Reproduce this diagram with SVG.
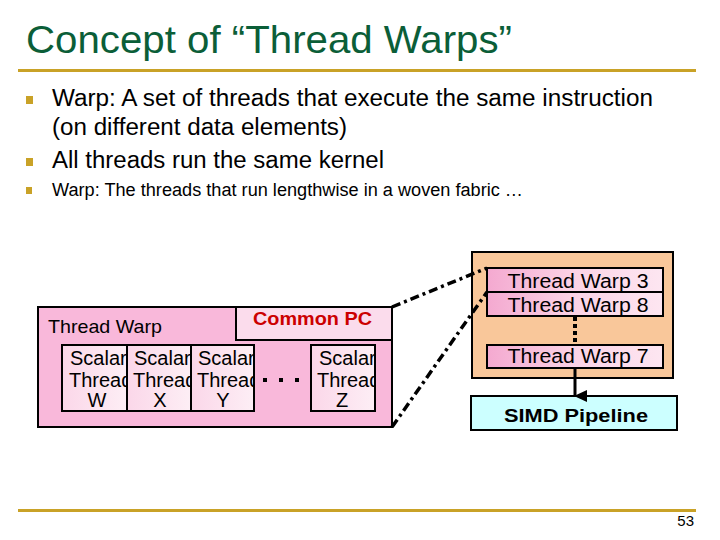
<svg xmlns="http://www.w3.org/2000/svg" width="720" height="540" viewBox="0 0 720 540">
<style>
.t{font-family:"Liberation Sans",Arial,sans-serif;fill:#000}
.bul{fill:#c9a227}
.box{stroke:#000;stroke-width:2}
.st{font-family:"Liberation Sans",Arial,sans-serif;font-size:20px;fill:#000}
.lt{font-family:"Liberation Sans",Arial,sans-serif;font-size:20px;fill:#000;text-anchor:middle}
.wt{font-family:"Liberation Sans",Arial,sans-serif;font-size:20px;fill:#000;text-anchor:middle}
.dd{fill:none;stroke:#000;stroke-width:3.5;stroke-dasharray:9 4 3 4}
</style>
<defs>
<linearGradient id="pg" x1="0" y1="0" x2="1" y2="0">
<stop offset="0" stop-color="#f4a9d0"/>
<stop offset="0.5" stop-color="#fbd3e6"/>
<stop offset="1" stop-color="#fde6f1"/>
</linearGradient>
<linearGradient id="sg" x1="0" y1="0" x2="1" y2="0">
<stop offset="0" stop-color="#fbd7e9"/>
<stop offset="1" stop-color="#fdeef5"/>
</linearGradient>
<clipPath id="c1"><rect x="62" y="345" width="65" height="66"/></clipPath>
<clipPath id="c2"><rect x="127" y="345" width="64" height="66"/></clipPath>
<clipPath id="c3"><rect x="191" y="345" width="63" height="66"/></clipPath>
<clipPath id="c4"><rect x="311" y="345" width="64" height="66"/></clipPath>
<marker id="ah" markerWidth="12" markerHeight="13" refX="6" refY="12" orient="auto" markerUnits="userSpaceOnUse"><path d="M0,0 L12,0 L6,13 Z" fill="#000"/></marker>
</defs>
<rect width="720" height="540" fill="#fff"/>
<g id="title">
<text x="26" y="53" font-family="'Liberation Sans',Arial,sans-serif" font-size="39" fill="#0b5e38" textLength="486" lengthAdjust="spacingAndGlyphs">Concept of “Thread Warps”</text>
<rect x="18" y="69" width="678" height="3" fill="#c9a227"/>
</g>
<g id="bullets">
<rect class="bul" x="26" y="96" width="7" height="8"/>
<text class="t" x="52" y="106" font-size="23" textLength="601" lengthAdjust="spacingAndGlyphs">Warp: A set of threads that execute the same instruction</text>
<text class="t" x="52" y="135" font-size="23" textLength="295" lengthAdjust="spacingAndGlyphs">(on different data elements)</text>
<rect class="bul" x="26" y="158" width="7" height="8"/>
<text class="t" x="52" y="168" font-size="23" textLength="332" lengthAdjust="spacingAndGlyphs">All threads run the same kernel</text>
<rect class="bul" x="26" y="187" width="6" height="7"/>
<text class="t" x="52" y="196" font-size="18" textLength="471" lengthAdjust="spacingAndGlyphs">Warp: The threads that run lengthwise in a woven fabric …</text>
</g>
<g id="thread-warp">
<rect class="box" x="38" y="307" width="354" height="120" fill="#f9b8da"/>
<text class="t" x="48" y="333" font-size="19" textLength="114" lengthAdjust="spacingAndGlyphs">Thread Warp</text>
</g>
<g id="common-pc">
<rect class="box" x="236" y="307" width="156" height="33" fill="#fbdcec"/>
<text x="253" y="325" font-family="'Liberation Sans',Arial,sans-serif" font-size="18" font-weight="bold" fill="#cc0000" textLength="119" lengthAdjust="spacingAndGlyphs">Common PC</text>
</g>
<g id="thread-w">
<rect class="box" x="62" y="345" width="65" height="66" fill="url(#sg)"/>
<g clip-path="url(#c1)"><text class="st" x="70" y="365">Scalar</text><text class="st" x="69" y="387">Thread</text><text class="lt" x="97" y="407">W</text></g>
</g>
<g id="thread-x">
<rect class="box" x="127" y="345" width="64" height="66" fill="url(#sg)"/>
<g clip-path="url(#c2)"><text class="st" x="134" y="365">Scalar</text><text class="st" x="133" y="387">Thread</text><text class="lt" x="160" y="407">X</text></g>
</g>
<g id="thread-y">
<rect class="box" x="191" y="345" width="63" height="66" fill="url(#sg)"/>
<g clip-path="url(#c3)"><text class="st" x="198" y="365">Scalar</text><text class="st" x="197" y="387">Thread</text><text class="lt" x="223" y="407">Y</text></g>
</g>
<g id="ellipsis">
<rect x="263" y="378" width="4" height="4" fill="#000"/>
<rect x="279" y="378" width="4" height="4" fill="#000"/>
<rect x="295" y="378" width="4" height="4" fill="#000"/>
</g>
<g id="thread-z">
<rect class="box" x="311" y="345" width="64" height="66" fill="url(#sg)"/>
<g clip-path="url(#c4)"><text class="st" x="319" y="365">Scalar</text><text class="st" x="317" y="387">Thread</text><text class="lt" x="342" y="407">Z</text></g>
</g>
<g id="scheduler">
<rect class="box" x="472" y="252" width="201" height="126" fill="#f9c79a"/>
</g>
<g id="warp3">
<rect class="box" x="487" y="268" width="176" height="24" fill="url(#pg)"/>
<text class="wt" x="578" y="288" textLength="141" lengthAdjust="spacingAndGlyphs">Thread Warp 3</text>
</g>
<g id="warp8">
<rect class="box" x="487" y="292" width="176" height="24" fill="url(#pg)"/>
<text class="wt" x="578" y="312" textLength="141" lengthAdjust="spacingAndGlyphs">Thread Warp 8</text>
</g>
<g id="warp7">
<rect class="box" x="487" y="345" width="176" height="23" fill="url(#pg)"/>
<text class="wt" x="578" y="363" textLength="141" lengthAdjust="spacingAndGlyphs">Thread Warp 7</text>
</g>
<g id="simd">
<rect class="box" x="471" y="396" width="206" height="34" fill="#ccffff"/>
<text x="576" y="422" font-family="'Liberation Sans',Arial,sans-serif" font-size="19" font-weight="bold" fill="#000" text-anchor="middle" textLength="144" lengthAdjust="spacingAndGlyphs">SIMD Pipeline</text>
</g>
<g id="connectors">
<path class="dd" d="M392,307 L487,268"/>
<path class="dd" d="M392,427 L487,292"/>
<path d="M575,317 L575,342" fill="none" stroke="#000" stroke-width="4" stroke-dasharray="4 3"/>
<path d="M575,368 L575,396" fill="none" stroke="#000" stroke-width="3" marker-end="url(#ah)"/>
</g>
<g id="footer">
<rect x="18" y="509" width="678" height="3" fill="#c9a227"/>
<text class="t" x="694" y="526" font-size="15" text-anchor="end">53</text>
</g>
</svg>
